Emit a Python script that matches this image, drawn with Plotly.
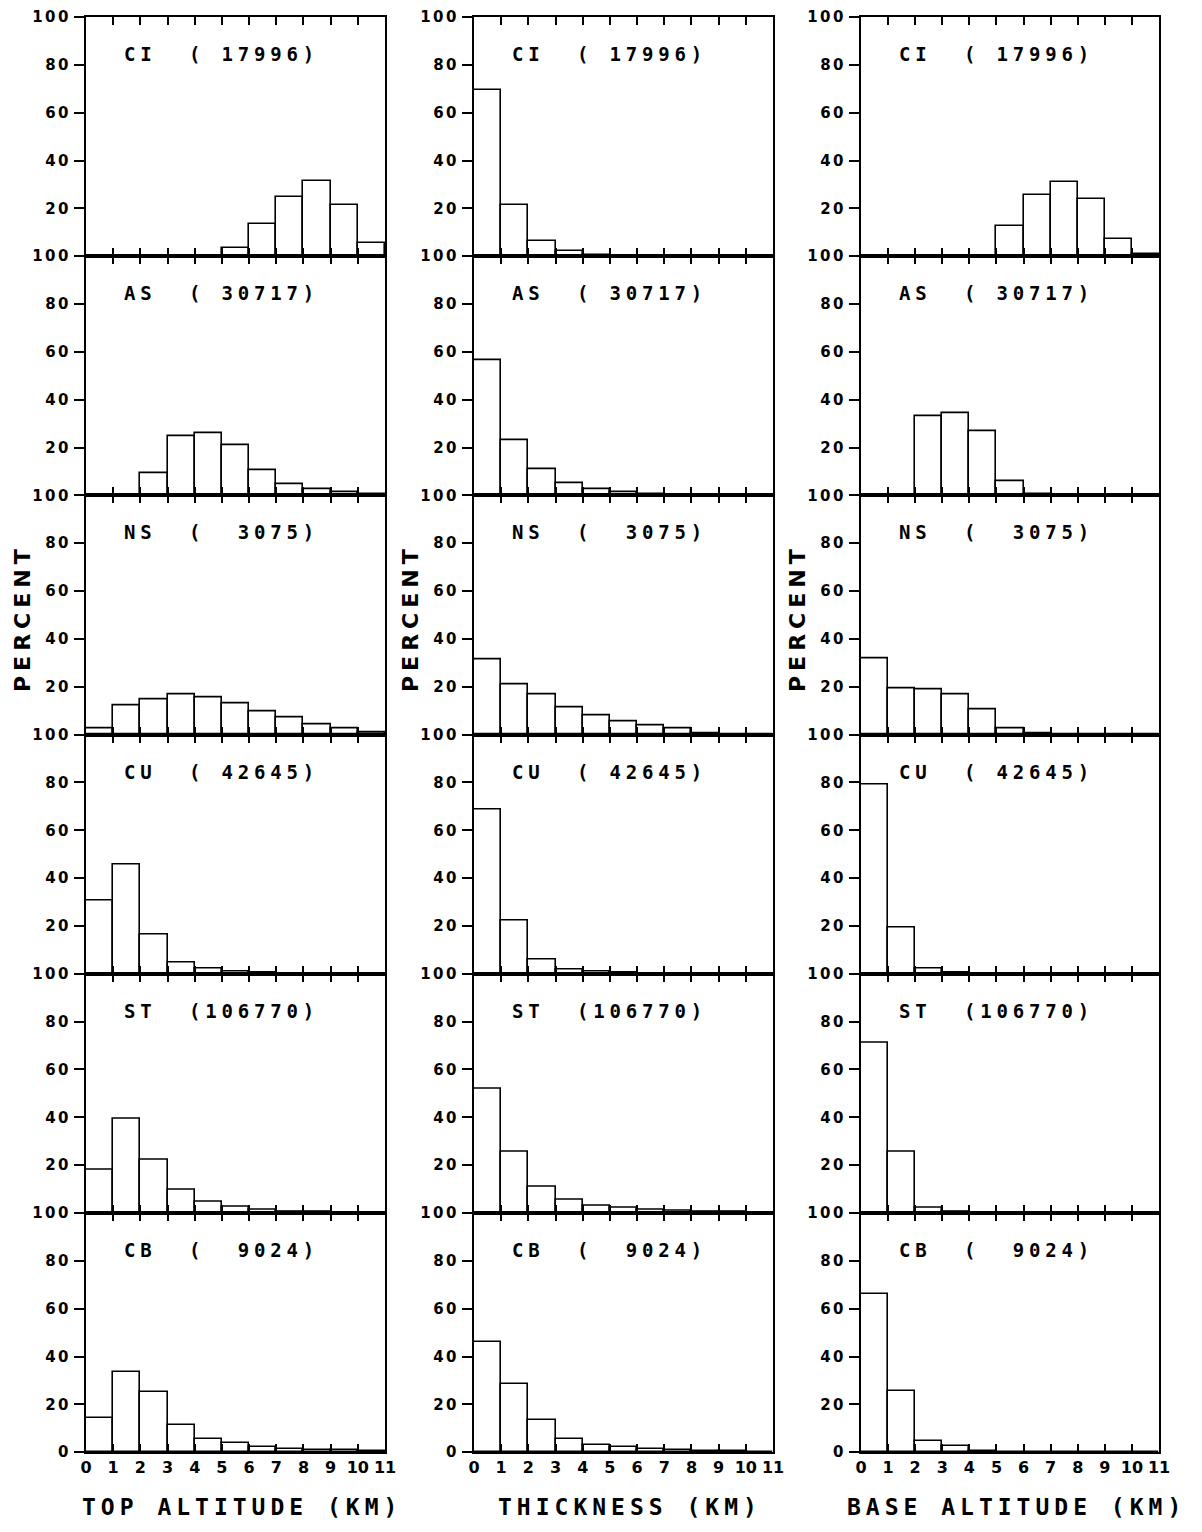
import plotly.graph_objects as go

# ---------------- data ----------------
km_bins = list(range(11))          # lower edge of each 1-km bin
x_tick_vals = list(range(12))
x_tick_text = [str(v) for v in x_tick_vals]
y_tick_vals = [0, 20, 40, 60, 80, 100]

cloud_types = ["CI", "AS", "NS", "CU", "ST", "CB"]
cloud_counts = [17996, 30717, 3075, 42645, 106770, 9024]

column_titles = ["TOP ALTITUDE (KM)", "THICKNESS (KM)", "BASE ALTITUDE (KM)"]
y_title = "PERCENT"

# top altitude (%)
top_ci = [0, 0, 0, 0, 0, 3.4, 13.3, 24.9, 31.5, 21.5, 5.5]
top_as = [0, 0, 9.4, 24.6, 25.8, 21.1, 10.7, 4.7, 2.5, 1.2, 0.3]
top_ns = [2.5, 12.3, 14.7, 16.8, 15.7, 12.9, 9.8, 7.0, 4.2, 2.4, 1.0]
top_cu = [30.5, 45.5, 16.5, 4.5, 2.0, 0.8, 0.3, 0.2, 0.1, 0, 0]
top_st = [18.1, 39.3, 22.2, 9.7, 4.6, 2.6, 1.4, 0.7, 0.4, 0.2, 0.1]
top_cb = [14.5, 33.5, 25.0, 11.5, 5.5, 3.7, 2.3, 1.5, 1.0, 0.8, 0.3]

# thickness (%)
thk_ci = [69.5, 21.5, 6.3, 2.0, 0.6, 0.2, 0.1, 0, 0, 0, 0]
thk_as = [56.4, 23.0, 11.0, 5.0, 2.8, 1.5, 0.5, 0.2, 0.1, 0, 0]
thk_ns = [31.4, 20.9, 16.7, 11.4, 8.2, 5.7, 3.8, 2.6, 0.6, 0, 0]
thk_cu = [68.6, 22.1, 5.9, 1.7, 1.0, 0.4, 0.2, 0.1, 0, 0, 0]
thk_st = [52.0, 25.5, 10.9, 5.4, 3.2, 2.1, 1.4, 0.9, 0.5, 0.3, 0.2]
thk_cb = [45.9, 28.7, 13.4, 5.6, 3.1, 2.0, 1.3, 1.0, 0.6, 0.3, 0.1]

# base altitude (%)
base_ci = [0, 0, 0, 0, 0, 12.5, 25.4, 31.0, 24.1, 7.2, 1.1]
base_as = [0, 0, 33.3, 34.4, 26.8, 5.8, 0.4, 0, 0, 0, 0]
base_ns = [31.9, 19.5, 18.8, 16.7, 10.5, 2.6, 0.5, 0.2, 0, 0, 0]
base_cu = [79.0, 19.4, 2.1, 0.3, 0, 0, 0, 0, 0, 0, 0]
base_st = [71.3, 25.5, 2.1, 0.4, 0.1, 0, 0, 0, 0, 0, 0]
base_cb = [66.3, 25.5, 4.8, 2.5, 0.4, 0.2, 0, 0, 0, 0, 0]

columns = [
    [top_ci, top_as, top_ns, top_cu, top_st, top_cb],
    [thk_ci, thk_as, thk_ns, thk_cu, thk_st, thk_cb],
    [base_ci, base_as, base_ns, base_cu, base_st, base_cb],
]

# ---------------- layout geometry ----------------
# page body has an 8px margin, so the figure is drawn 8px in from the window edge
OFF = 8
W, H = 1202 - 2 * OFF, 1532 - 2 * OFF
col_px = [(86 - OFF, 385 - OFF), (474 - OFF, 773 - OFF), (861 - OFF, 1159 - OFF)]
top_px, row_h = 17 - OFF, 239.2
title_x_px = [22 - OFF, 410 - OFF, 797 - OFF]
percent_y_px = 618 - OFF
xtitle_y_px = 1507 - OFF


def spaced(s, px):
    return "<span style='letter-spacing:%spx'>%s</span>" % (px, s)


tick_font = dict(family="DejaVu Sans", size=15, color="black", weight="bold")
xtick_font = dict(family="DejaVu Sans", size=16, color="black", weight="bold")

fig = go.Figure()
layout = dict(
    width=W, height=H,
    margin=dict(l=0, r=0, t=0, b=0, pad=0, autoexpand=False),
    paper_bgcolor="white", plot_bgcolor="white",
    showlegend=False,
    bargap=0,
)
annotations = []

for r in range(6):
    y0 = 1 - (top_px + row_h * (r + 1)) / H
    y1 = 1 - (top_px + row_h * r) / H
    for c in range(3):
        i = r * 3 + c + 1
        sfx = "" if i == 1 else str(i)
        xid, yid = "x" + sfx, "y" + sfx
        x0 = col_px[c][0] / W
        x1 = col_px[c][1] / W

        fig.add_trace(go.Bar(
            x=km_bins, y=columns[c][r], width=1, offset=0,
            xaxis=xid, yaxis=yid,
            marker=dict(color="white", line=dict(color="black", width=1.6)),
            hoverinfo="x+y",
        ))

        ytext = [spaced(str(v), 2.5) if (v != 0 or r == 5) else "" for v in y_tick_vals]
        layout["xaxis" + sfx] = dict(
            domain=[x0, x1], anchor=yid, range=[0, 11],
            tickvals=x_tick_vals, ticktext=x_tick_text, tickangle=0,
            ticks="inside", ticklen=8, tickwidth=2, tickcolor="black",
            showline=True, linewidth=2, linecolor="black", mirror="ticks",
            showgrid=False, zeroline=False, showticklabels=(r == 5),
            tickfont=xtick_font, fixedrange=True,
        )
        layout["yaxis" + sfx] = dict(
            domain=[y0, y1], anchor=xid, range=[0, 100],
            tickvals=y_tick_vals, ticktext=ytext,
            ticks="outside", ticklen=10, tickwidth=2, tickcolor="black",
            showline=True, linewidth=2, linecolor="black", mirror=True,
            showgrid=False, zeroline=False, tickfont=tick_font, fixedrange=True,
        )
        layout["yaxis" + str(18 + i)] = dict(
            overlaying=yid, side="right", anchor=xid, range=[0, 100],
            tickvals=y_tick_vals[1:-1], ticks="inside", ticklen=10, tickwidth=2,
            tickcolor="black", showticklabels=False, showgrid=False,
            zeroline=False, showline=False, fixedrange=True,
        )

        label = "%s\u00a0\u00a0(%s)" % (cloud_types[r], str(cloud_counts[r]).rjust(6).replace(" ", "\u00a0"))
        annotations.append(dict(
            xref=xid + " domain", yref=yid + " domain",
            x=0.12, y=0.845, xanchor="left", yanchor="middle",
            text=spaced(label, 4.8), showarrow=False,
            font=dict(family="DejaVu Sans Mono", size=19, color="black", weight="bold"),
        ))

for c in range(3):
    annotations.append(dict(
        xref="paper", yref="paper",
        x=title_x_px[c] / W, y=1 - percent_y_px / H,
        xanchor="center", yanchor="middle", textangle=-90,
        text=spaced(y_title, 5), showarrow=False,
        font=dict(family="DejaVu Sans", size=22, color="black", weight="bold"),
    ))
    annotations.append(dict(
        xref="paper", yref="paper",
        x=(col_px[c][0] + col_px[c][1]) / 2 / W + 6 / W, y=1 - xtitle_y_px / H,
        xanchor="center", yanchor="middle",
        text=spaced(column_titles[c], 5), showarrow=False,
        font=dict(family="DejaVu Sans Mono", size=23, color="black", weight="bold"),
    ))

layout["annotations"] = annotations
fig.update_layout(**layout)
fig.write_html("out.html")
